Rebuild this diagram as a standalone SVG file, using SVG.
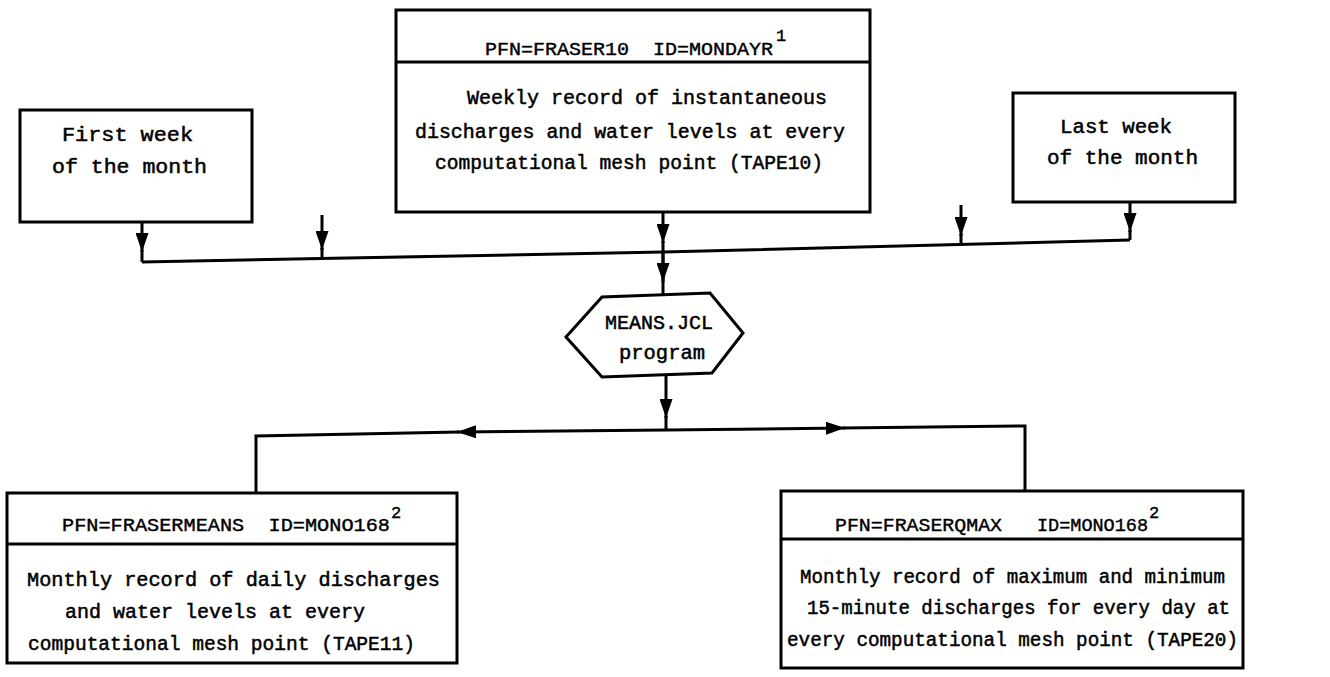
<svg xmlns="http://www.w3.org/2000/svg" width="1330" height="677" viewBox="0 0 1330 677">
<style>
.box{fill:#fff;stroke:#000;stroke-width:3}
.ln{fill:none;stroke:#000;stroke-width:3}
.t{font-family:"Liberation Mono","DejaVu Sans Mono",monospace;font-size:20px;fill:#000;stroke:#000;stroke-width:0.5}
.h{font-family:"Liberation Mono","DejaVu Sans Mono",monospace;font-size:19px;fill:#000;stroke:#000;stroke-width:0.4;white-space:pre}
.s{font-family:"Liberation Mono","DejaVu Sans Mono",monospace;font-size:17px;fill:#000;stroke:#000;stroke-width:0.4}
</style>
<defs>
<marker id="ah" markerUnits="userSpaceOnUse" markerWidth="19" markerHeight="13" refX="19" refY="6.5" viewBox="0 0 19 13" orient="auto">
<path d="M0,0 L19,6.5 L0,13 Z" fill="#000"/>
</marker>
</defs>
<rect width="1330" height="677" fill="#fff"/>
<g id="connectors">
<path class="ln" d="M142,222 V252" marker-end="url(#ah)"/>
<path class="ln" d="M142,250 V262"/>
<path class="ln" d="M322,215 V250" marker-end="url(#ah)"/>
<path class="ln" d="M322,248 V258"/>
<path class="ln" d="M663,212 V243" marker-end="url(#ah)"/>
<path class="ln" d="M961,205 V236" marker-end="url(#ah)"/>
<path class="ln" d="M961,234 V244"/>
<path class="ln" d="M1130,202 V232" marker-end="url(#ah)"/>
<path class="ln" d="M1130,230 V240"/>
<path class="ln" d="M142,262 L663,252 L1130,240"/>
<path class="ln" d="M663,241 V297"/>
<path class="ln" d="M663,252 V282" marker-end="url(#ah)"/>
<path class="ln" d="M666,376 V418" marker-end="url(#ah)"/>
<path class="ln" d="M666,416 V430"/>
<path class="ln" d="M666,430 L457,432" marker-end="url(#ah)"/>
<path class="ln" d="M459,432 L256,436 V493"/>
<path class="ln" d="M666,430 L845,428" marker-end="url(#ah)"/>
<path class="ln" d="M843,428 L1025,426 V491"/>
</g>
<g id="node-top">
<rect class="box" x="396" y="10" width="474" height="202"/>
<line class="ln" x1="396" y1="62" x2="870" y2="62"/>
<text class="h" x="485" y="55" textLength="288" lengthAdjust="spacingAndGlyphs" xml:space="preserve">PFN=FRASER10  ID=MONDAYR</text>
<text class="s" x="776" y="41">1</text>
<text class="t" x="467" y="104" textLength="360" lengthAdjust="spacingAndGlyphs">Weekly record of instantaneous</text>
<text class="t" x="415" y="138" textLength="430" lengthAdjust="spacingAndGlyphs">discharges and water levels at every</text>
<text class="t" x="435" y="169" textLength="388" lengthAdjust="spacingAndGlyphs">computational mesh point (TAPE10)</text>
</g>
<g id="node-first">
<rect class="box" x="20" y="110" width="232" height="112"/>
<text class="t" x="62" y="141" textLength="131" lengthAdjust="spacingAndGlyphs">First week</text>
<text class="t" x="52" y="173" textLength="155" lengthAdjust="spacingAndGlyphs">of the month</text>
</g>
<g id="node-last">
<rect class="box" x="1013" y="93" width="222" height="109"/>
<text class="t" x="1060" y="133" textLength="112" lengthAdjust="spacingAndGlyphs">Last week</text>
<text class="t" x="1047" y="164" textLength="151" lengthAdjust="spacingAndGlyphs">of the month</text>
</g>
<g id="node-means">
<polygon class="box" points="566,337 602,297 710,293 743,333 712,373 602,377"/>
<text class="t" x="605" y="329" textLength="108" lengthAdjust="spacingAndGlyphs">MEANS.JCL</text>
<text class="t" x="619" y="359" textLength="86" lengthAdjust="spacingAndGlyphs">program</text>
</g>
<g id="node-frasermeans">
<rect class="box" x="7" y="493" width="450" height="170"/>
<line class="ln" x1="7" y1="544" x2="457" y2="544"/>
<text class="h" x="62" y="531" textLength="328" lengthAdjust="spacingAndGlyphs" xml:space="preserve">PFN=FRASERMEANS  ID=MONO168</text>
<text class="s" x="391" y="518">2</text>
<text class="t" x="27" y="586" textLength="413" lengthAdjust="spacingAndGlyphs">Monthly record of daily discharges</text>
<text class="t" x="65" y="618" textLength="300" lengthAdjust="spacingAndGlyphs">and water levels at every</text>
<text class="t" x="28" y="650" textLength="387" lengthAdjust="spacingAndGlyphs">computational mesh point (TAPE11)</text>
</g>
<g id="node-fraserqmax">
<rect class="box" x="781" y="491" width="462" height="177"/>
<line class="ln" x1="781" y1="539" x2="1243" y2="539"/>
<text class="h" x="835" y="531" textLength="167" lengthAdjust="spacingAndGlyphs">PFN=FRASERQMAX</text>
<text class="h" x="1037" y="531" textLength="111" lengthAdjust="spacingAndGlyphs">ID=MONO168</text>
<text class="s" x="1149" y="518">2</text>
<text class="t" x="800" y="583" textLength="425" lengthAdjust="spacingAndGlyphs">Monthly record of maximum and minimum</text>
<text class="t" x="807" y="614" textLength="423" lengthAdjust="spacingAndGlyphs">15-minute discharges for every day at</text>
<text class="t" x="787" y="646" textLength="451" lengthAdjust="spacingAndGlyphs">every computational mesh point (TAPE20)</text>
</g>
</svg>
